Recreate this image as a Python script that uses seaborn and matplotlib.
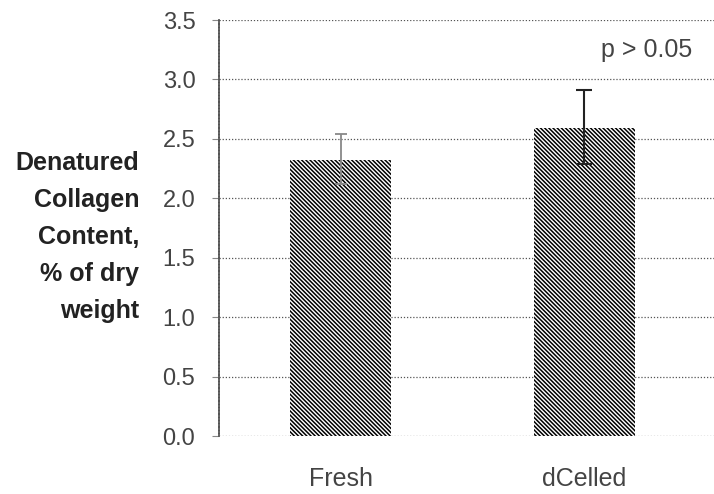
import matplotlib
matplotlib.use("Agg")
import matplotlib.pyplot as plt
import seaborn as sns
import pandas as pd
import numpy as np

categories = ["Fresh", "dCelled"]
values = [2.32, 2.59]
err_low = [0.20, 0.30]
err_high = [0.22, 0.32]
y_ticks = [0.0, 0.5, 1.0, 1.5, 2.0, 2.5, 3.0, 3.5]
ylabel = "Denatured\nCollagen\nContent,\n% of dry\nweight"
annot = "p > 0.05"

sns.set_theme(style="white")
plt.rcParams['font.family'] = ['Liberation Sans', 'DejaVu Sans']
plt.rcParams['hatch.linewidth'] = 1.1

fig = plt.figure(figsize=(7.14, 4.94), dpi=100)
ax = fig.add_axes([0.3067, 0.1174, 0.6933, 0.8421])

df = pd.DataFrame({"cat": categories, "val": values})
sns.barplot(data=df, x="cat", y="val", ax=ax, width=0.415, color="white",
            edgecolor="none", linewidth=0, errorbar=None, zorder=3)
for p in ax.patches:
    p.set_hatch("\\" * 8)
    p.set_edgecolor("black")
    p.set_linewidth(0)
    p.set_facecolor("white")

# error bars
x = np.arange(len(categories))
ax.errorbar(x[0:1], values[0:1], yerr=[[err_low[0]], [err_high[0]]], fmt="none",
            ecolor="#888888", elinewidth=1.3, capsize=4, capthick=1.3,
            linestyle=":", zorder=4)
ax.errorbar(x[1:2], values[1:2], yerr=[[err_low[1]], [err_high[1]]], fmt="none",
            ecolor="#222222", elinewidth=1.5, capsize=6, capthick=1.5, zorder=4)

ax.set_ylim(0, 3.5)
ax.set_xlim(-0.5, 1.533)
ax.set_yticks(y_ticks)
ax.set_yticklabels([f"{v:.1f}" for v in y_ticks], fontsize=17, color="#444444")
ax.set_xticks(x)
ax.set_xticklabels(categories, fontsize=18, color="#444444")
ax.set_xticks([-0.5, 0.5], minor=True)
ax.tick_params(axis="x", which="major", length=0, pad=22)
ax.tick_params(axis="x", which="minor", length=5, width=0.8, color="#888888", direction="out")
ax.tick_params(axis="y", length=5, width=0.8, color="#888888", direction="out", pad=12, left=True)

ax.grid(False)
for v in y_ticks:
    ax.axhline(v, color="#555555", linestyle=(0, (1, 1.5)), linewidth=0.9, zorder=1)

for s in ["top", "right", "bottom"]:
    ax.spines[s].set_visible(False)
ax.spines["left"].set_color("#555555")
ax.spines["left"].set_linestyle((0, (1, 0.8)))
ax.spines["left"].set_linewidth(1.3)

ax.set_xlabel("")
ax.set_ylabel("")
fig.text(0.195, 0.52, ylabel, ha="right", va="center", fontsize=18,
         fontweight="bold", color="#222222", linespacing=1.68)

ax.text(1.445, 3.25, annot, ha="right", va="center", fontsize=18, color="#444444")

fig.savefig("out.png", dpi=100)
